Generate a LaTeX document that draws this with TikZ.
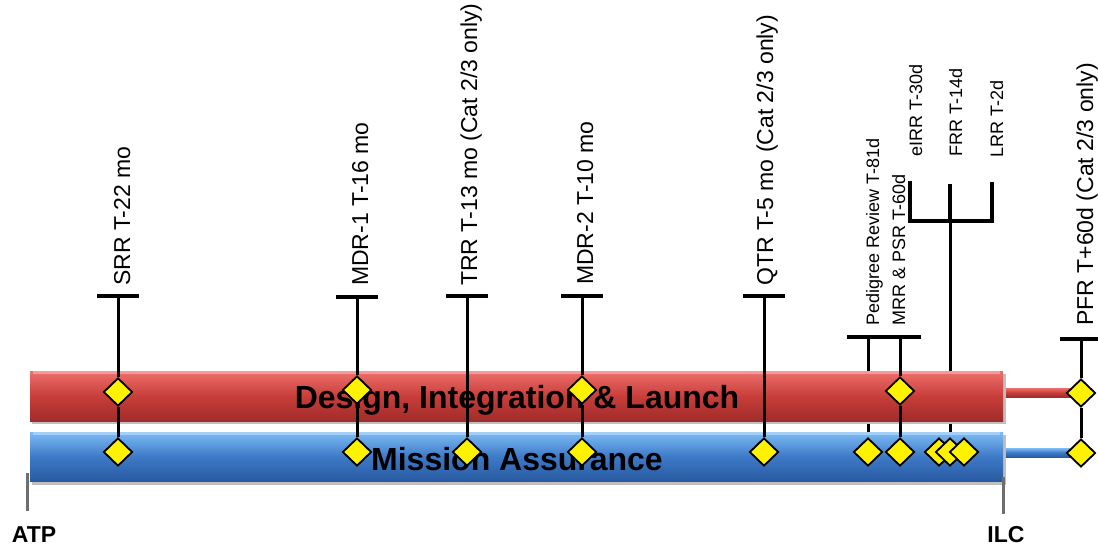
\documentclass[tikz,border=0pt]{standalone}
\usepackage{fontspec}
\setmainfont{Liberation Sans}
\usetikzlibrary{shapes.geometric}
\definecolor{redmid}{RGB}{200,62,58}
\definecolor{redtop}{RGB}{238,112,108}
\definecolor{redbot}{RGB}{160,44,42}
\definecolor{bluemid}{RGB}{62,122,200}
\definecolor{bluetop}{RGB}{125,188,245}
\definecolor{bluebot}{RGB}{40,90,160}
\definecolor{tickgray}{RGB}{110,110,110}
\pgfdeclarelayer{back}
\pgfdeclarelayer{bars}
\pgfsetlayers{back,bars,main}
\begin{document}
\begin{tikzpicture}[x=1pt,y=-1pt,
  ms/.style={diamond, draw=black, fill=yellow, line width=1.8pt, minimum width=29pt, minimum height=28pt, inner sep=0pt},
  stem/.style={line width=3pt},
  tbar/.style={line width=4pt},
  fork/.style={line width=3.4pt},
  biglbl/.style={rotate=90, anchor=base west, inner sep=0pt, font=\fontsize{23}{23}\selectfont},
  smalllbl/.style={rotate=90, anchor=base west, inner sep=0pt, font=\fontsize{18}{18}\selectfont},
  bartext/.style={anchor=base, inner sep=0pt, font=\bfseries\fontsize{32}{32}\selectfont},
  endlbl/.style={anchor=base, inner sep=0pt, font=\bfseries\fontsize{23}{23}\selectfont},
  tick/.style={draw=tickgray, line width=3pt}
]
\useasboundingbox (0,0) rectangle (1098,550);

% ---------- bars ----------
\begin{pgfonlayer}{bars}
  \fill[black!25] (32,374) rectangle (1006,424);
  \fill[black!25] (32,435) rectangle (1006,485);
  \shade[top color=redtop, bottom color=redbot, middle color=redmid] (30,371) rectangle (1003,421);
  \fill[redtop!70!white] (33,371) rectangle (1000,374);
  \shade[top color=bluetop, bottom color=bluebot, middle color=bluemid] (30,432) rectangle (1003,481);
  \fill[bluetop!70!white] (33,432) rectangle (1000,435);
  % short bars after ILC
  \shade[top color=redtop, bottom color=redbot, middle color=redmid] (1006,388) rectangle (1075,397);
  \shade[top color=bluetop, bottom color=bluebot, middle color=bluemid] (1006,448) rectangle (1075,457);
  \node[bartext] (dil) at (517,408) {Design, Integration \& Launch};
  \node[bartext] (ma) at (517,470) {Mission Assurance};
\end{pgfonlayer}

% ---------- ATP / ILC ----------
\coordinate (atpT) at (27,473);
\coordinate (atpB) at (27,511);
\draw[tick] (atpT) -- (atpB);
\node[endlbl] (atp) at (34,542) {ATP};
\coordinate (ilcT) at (1003,477);
\coordinate (ilcB) at (1003,514);
\draw[tick] (ilcT) -- (ilcB);
\node[endlbl] (ilc) at (1006,542) {ILC};

% ---------- T-bar tops ----------
\coordinate (srrT) at (118,296);
\coordinate (mdraT) at (357,297);
\coordinate (trrT) at (467,296);
\coordinate (mdrbT) at (582,296);
\coordinate (qtrT) at (764,296);
\coordinate (pedbar) at (884,337);
\coordinate (pedT) at (868,337);
\coordinate (mrrT) at (900,337);
\coordinate (pfrT) at (1081,339);
\foreach \c in {srrT,mdraT,trrT,mdrbT,qtrT}
  \draw[tbar] ([xshift=-21pt]\c) -- ([xshift=21pt]\c);
\draw[tbar] ([xshift=-37pt]pedbar) -- ([xshift=37pt]pedbar);
\draw[tbar] ([xshift=-21pt]pfrT) -- ([xshift=21pt]pfrT);

% ---------- fork ----------
\coordinate (eirrTop) at (910,181);
\coordinate (eirrF) at (910,221);
\coordinate (frrTop) at (950,184);
\coordinate (frrF) at (950,221);
\coordinate (lrrTop) at (992,182);
\coordinate (lrrF) at (992,221);
\draw[fork] (eirrTop) -- (eirrF) -- (lrrF) -- (lrrTop);
\draw[fork] (frrTop) -- (frrF);

% ---------- milestone diamonds ----------
\node[ms] (srrR) at (118,392) {};
\node[ms] (srrB) at (118,452) {};
\node[ms] (mdraR) at (357,390) {};
\node[ms] (mdraB) at (357,452) {};
\node[ms] (trrB) at (467,452) {};
\node[ms] (mdrbR) at (582,390) {};
\node[ms] (mdrbB) at (582,452) {};
\node[ms] (qtrB) at (764,452) {};
\node[ms] (pedB) at (868,452) {};
\node[ms] (mrrR) at (900,391) {};
\node[ms] (mrrB) at (900,452) {};
\node[ms] (eirrB) at (939,452) {};
\node[ms] (frrB) at (950,452) {};
\node[ms] (lrrB) at (964,452) {};
\node[ms] (pfrR) at (1081,393) {};
\node[ms] (pfrB) at (1081,453) {};

% ---------- stems ----------
\begin{pgfonlayer}{back}
  \draw[stem] (pedT) -- (pedB);
  \draw[stem] (frrF) -- (frrB);
\end{pgfonlayer}
\draw[stem] (srrT) -- (srrR) -- (srrB);
\draw[stem] (mdraT) -- (mdraR) -- (mdraB);
\draw[stem] (trrT) -- (trrB);
\draw[stem] (mdrbT) -- (mdrbR) -- (mdrbB);
\draw[stem] (qtrT) -- (qtrB);
\draw[stem] (mrrT) -- (mrrR) -- (mrrB);
\draw[stem] (pfrT) -- (pfrR) -- (pfrB);

% ---------- labels ----------
\node[biglbl] (srrL) at (130,286) {SRR T-22 mo};
\node[biglbl] (mdraL) at (368,286) {MDR-1 T-16 mo};
\node[biglbl] (trrL) at (477,286) {TRR T-13 mo (Cat 2/3 only)};
\node[biglbl] (mdrbL) at (593,285) {MDR-2 T-10 mo};
\node[biglbl] (qtrL) at (773,286) {QTR T-5 mo (Cat 2/3 only)};
\node[biglbl] (pfrL) at (1093,326) {PFR T+60d (Cat 2/3 only)};
\node[smalllbl] (pedL) at (879,326) {Pedigree Review T-81d};
\node[smalllbl] (mrrL) at (905,326) {MRR \& PSR T-60d};
\node[smalllbl] (eirrL) at (922,157) {eIRR T-30d};
\node[smalllbl] (frrL) at (962,157) {FRR T-14d};
\node[smalllbl] (lrrL) at (1003,158) {LRR T-2d};
\end{tikzpicture}
\end{document}
